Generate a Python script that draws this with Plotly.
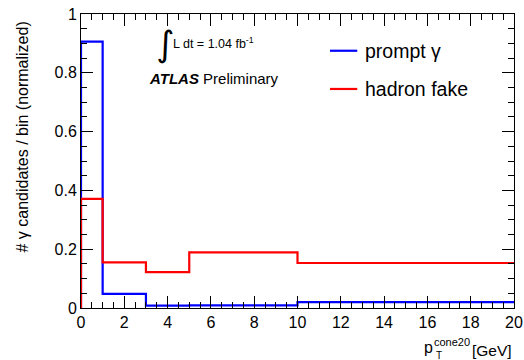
import plotly.graph_objects as go

# bin edges in pT^cone20 [GeV]
bin_edges = [0, 1, 3, 5, 10, 20]
prompt_gamma = [0.906, 0.048, 0.008, 0.009, 0.020]
hadron_fake = [0.371, 0.155, 0.122, 0.189, 0.153]
x_tick_vals = [0, 2, 4, 6, 8, 10, 12, 14, 16, 18, 20]
x_tick_text = ["0", "2", "4", "6", "8", "10", "12", "14", "16", "18", "20"]
y_tick_vals = [0, 0.2, 0.4, 0.6, 0.8, 1.0]
y_tick_text = ["0", "0.2", "0.4", "0.6", "0.8", "1"]

FONT = "Liberation Sans, Arial, sans-serif"

def step(vals):
    xs = [bin_edges[0]] + list(bin_edges)
    ys = [0] + list(vals) + [vals[-1]]
    return xs, ys

fig = go.Figure()
for name, vals, col in [("prompt γ", prompt_gamma, "#0000ff"),
                        ("hadron fake", hadron_fake, "#ff0000")]:
    xs, ys = step(vals)
    fig.add_trace(go.Scatter(x=xs, y=ys, mode="lines", name=name,
                             line=dict(color=col, width=2.2, shape="hv"),
                             showlegend=False))

axis_common = dict(showgrid=False, zeroline=False, showline=True, linecolor="black",
                   linewidth=1, mirror="ticks", ticks="inside", ticklen=12,
                   tickcolor="black", tickwidth=1, automargin=False,
                   ticklabeloverflow="allow",
                   tickfont=dict(family=FONT, size=16, color="black"))

fig.update_xaxes(range=[0, 20], tickvals=x_tick_vals, ticktext=x_tick_text,
                 minor=dict(dtick=0.5, ticks="inside", ticklen=6, tickcolor="black", showgrid=False),
                 **axis_common)
fig.update_yaxes(range=[0, 1], tickvals=y_tick_vals, ticktext=y_tick_text,
                 minor=dict(dtick=0.05, ticks="inside", ticklen=6, tickcolor="black", showgrid=False),
                 **axis_common)

ann = []
# y title (ROOT style: aligned to top end of axis)
ann.append(dict(x=-0.136, y=0.98, xref="paper", yref="paper",
                text="# γ candidates / bin (normalized)", textangle=-90, showarrow=False,
                xanchor="center", yanchor="top", font=dict(family=FONT, size=16, color="black")))
# legend (drawn manually, ROOT style)
for yy, name, col in [(0.875, "prompt γ", "#0000ff"), (0.745, "hadron fake", "#ff0000")]:
    fig.add_shape(type="line", xref="paper", yref="paper", x0=0.575, x1=0.638, y0=yy, y1=yy,
                  line=dict(color=col, width=2.2))
    ann.append(dict(x=0.652, y=yy, xref="paper", yref="paper", text=name, showarrow=False,
                    xanchor="left", yanchor="middle", font=dict(family=FONT, size=19.5, color="black")))

ann.append(dict(x=0.168, y=0.897, xref="paper", yref="paper", text="∫", showarrow=False,
                xanchor="left", yanchor="middle", font=dict(family="DejaVu Sans", size=35, color="black")))
ann.append(dict(x=0.207, y=0.9, xref="paper", yref="paper", text="L dt = 1.04 fb<sup>-1</sup>",
                showarrow=False, xanchor="left", yanchor="middle",
                font=dict(family=FONT, size=12.5, color="black")))
ann.append(dict(x=0.152, y=0.78, xref="paper", yref="paper",
                text="<b><i>ATLAS</i></b> Preliminary", showarrow=False, xanchor="left",
                yanchor="middle", font=dict(family=FONT, size=15, color="black")))
# x title: p_T^cone20 [GeV]
ann.append(dict(x=1.0, y=-0.143, xref="paper", yref="paper", text="[GeV]", showarrow=False,
                xanchor="right", yanchor="middle", font=dict(family=FONT, size=15.5, color="black")))
ann.append(dict(x=0.902, y=-0.116, xref="paper", yref="paper", text="cone20", showarrow=False,
                xanchor="right", yanchor="middle", font=dict(family=FONT, size=11, color="black")))
ann.append(dict(x=0.818, y=-0.135, xref="paper", yref="paper", text="p", showarrow=False,
                xanchor="right", yanchor="middle", font=dict(family=FONT, size=16, color="black")))
ann.append(dict(x=0.815, y=-0.163, xref="paper", yref="paper", text="T", showarrow=False,
                xanchor="left", yanchor="middle", font=dict(family=FONT, size=10, color="black")))

fig.update_layout(width=524, height=360, margin=dict(l=81, r=10, t=14, b=52),
                  paper_bgcolor="white", plot_bgcolor="white", annotations=ann,
                  font=dict(family=FONT, color="black"))

# remove the page's default 8px body margin so the figure fills the window
fig.write_html("out.html", config={"displayModeBar": False},
               post_script="document.body.style.margin='0';")
